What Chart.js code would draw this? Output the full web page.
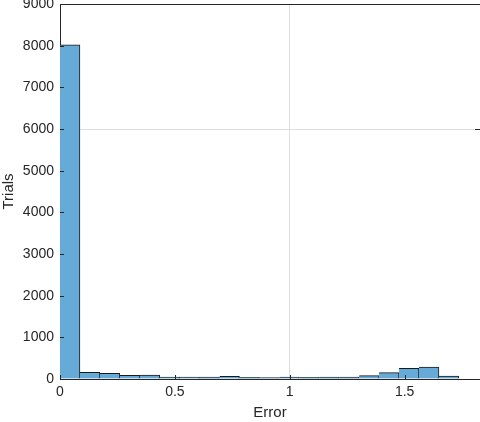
<!DOCTYPE html>
<html>
<head>
<meta charset="utf-8">
<script src="https://cdn.jsdelivr.net/npm/chart.js@4.4.1/dist/chart.umd.min.js"></script>
<style>
  html, body { margin: 0; padding: 0; background: #fff; }
  #wrap { width: 480px; height: 422px; }
</style>
</head>
<body>
<div id="wrap"><canvas id="mycanvas"></canvas></div>
<script>
// histogram bins (error) and counts (trials)
var binEdges = [0, 0.0868, 0.1736, 0.2604, 0.3472, 0.4340, 0.5208, 0.6076, 0.6944, 0.7812,
                0.8680, 0.9548, 1.0416, 1.1284, 1.2152, 1.3020, 1.3888, 1.4756, 1.5624, 1.6492, 1.7360];
var counts = [8020, 160, 137, 88, 96, 48, 48, 45, 64, 40,
              35, 48, 40, 45, 45, 80, 152, 256, 288, 72];
var xTicks = [0, 0.5, 1, 1.5];
var yTicks = [0, 1000, 2000, 3000, 4000, 5000, 6000, 7000, 8000, 9000];

var points = [];
for (var i = 0; i < counts.length; i++) {
  points.push({ x: (binEdges[i] + binEdges[i + 1]) / 2, y: counts[i] });
}

var FONT = '"Liberation Sans", Arial, Helvetica, sans-serif';

// matlab style box: top line and inward ticks
var boxPlugin = {
  id: 'box',
  afterDraw: function(chart) {
    var c = chart.ctx, a = chart.chartArea;
    var xs = chart.scales.x, ys = chart.scales.y;
    c.save();
    c.strokeStyle = '#262626';
    c.lineWidth = 1;
    c.beginPath();
    c.moveTo(a.left, a.top + 0.5);
    c.lineTo(a.right, a.top + 0.5);
    yTicks.forEach(function(v) {
      var py = Math.round(ys.getPixelForValue(v)) + 0.5;
      c.moveTo(a.left, py);
      c.lineTo(a.left + 4, py);
    });
    var p6 = Math.round(ys.getPixelForValue(6000)) + 0.5;
    c.moveTo(a.right - 5, p6);
    c.lineTo(a.right, p6);
    xTicks.forEach(function(v) {
      var px = Math.round(xs.getPixelForValue(v)) + 0.5;
      c.moveTo(px, a.bottom);
      c.lineTo(px, a.bottom - 4);
    });
    c.stroke();
    c.restore();
  }
};

var ctx = document.getElementById('mycanvas');
var chart = new Chart(ctx, {
  type: 'bar',
  data: {
    datasets: [{
      label: 'Trials',
      data: points,
      backgroundColor: '#66aad7',
      borderColor: '#1a1a1a',
      borderWidth: { top: 1, right: 1, left: 0, bottom: 0 },
      borderSkipped: false,
      barPercentage: 1,
      categoryPercentage: 1
    }]
  },
  options: {
    responsive: true,
    maintainAspectRatio: false,
    animation: false,
    layout: { padding: { left: 0, right: 0, top: 4, bottom: 0 } },
    plugins: { legend: { display: false }, tooltip: { enabled: false } },
    scales: {
      x: {
        type: 'linear',
        offset: false,
        min: 0,
        max: 1.828,
        afterBuildTicks: function(s) { s.ticks = xTicks.map(function(v) { return { value: v }; }); },
        afterFit: function(s) { s.height = 43; s.paddingLeft = 0; s.paddingRight = 0; },
        grid: {
          offset: false,
          drawTicks: false,
          color: function(c) { return c.tick && c.tick.value === 1 ? '#dedede' : 'rgba(0,0,0,0)'; }
        },
        border: { display: true, color: '#262626', width: 1 },
        ticks: {
          padding: 5,
          color: '#262626',
          font: { family: FONT, size: 14 },
          maxRotation: 0,
          callback: function(v) { return String(v); }
        },
        title: {
          display: true,
          text: 'Error',
          color: '#262626',
          font: { family: FONT, size: 15 },
          padding: { top: 0, bottom: 0 }
        }
      },
      y: {
        min: 0,
        max: 9000,
        afterBuildTicks: function(s) { s.ticks = yTicks.map(function(v) { return { value: v }; }); },
        afterFit: function(s) { s.width = 60; s.paddingTop = 0; s.paddingBottom = 0; },
        grid: {
          drawTicks: false,
          color: function(c) { return c.tick && c.tick.value === 6000 ? '#dedede' : 'rgba(0,0,0,0)'; }
        },
        border: { display: true, color: '#262626', width: 1 },
        ticks: {
          padding: 6,
          color: '#262626',
          font: { family: FONT, size: 14 },
          callback: function(v) { return String(v); }
        },
        title: {
          display: true,
          text: 'Trials',
          color: '#262626',
          font: { family: FONT, size: 15 },
          padding: { top: 0, bottom: 2 }
        }
      }
    }
  },
  plugins: [boxPlugin]
});
</script>
</body>
</html>
